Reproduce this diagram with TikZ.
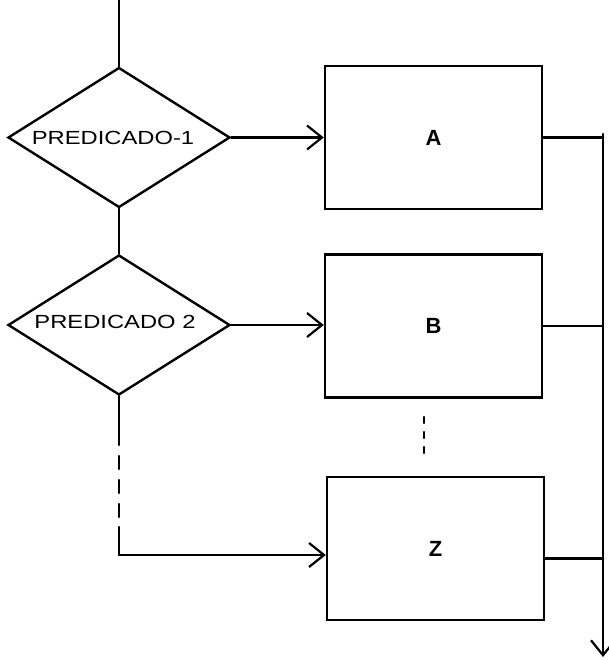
\documentclass[tikz,border=0pt]{standalone}
\usepackage{fontspec}
\setmainfont{Liberation Sans}
\usetikzlibrary{shapes.geometric,arrows.meta,calc}
\tikzset{
  line/.style={line width=2.4pt, line cap=round, line join=round},
  arr/.style={line, -{Straight Barb[length=15pt,width=24pt,line width=2.2pt]}},
  decision/.style={diamond, draw, line width=2.4pt, inner sep=0pt, minimum width=222pt, minimum height=140pt},
  procbox/.style={rectangle, draw, line width=2.4pt, inner sep=0pt, minimum width=217pt, minimum height=143pt, font=\fontsize{22}{24}\selectfont\bfseries},
  dlabel/.style={inner sep=0pt, font=\fontsize{19}{21}\selectfont},
  dots/.style={line, dash pattern=on 6pt off 9pt}
}
\begin{document}
\begin{tikzpicture}[x=1pt,y=-1pt]
\useasboundingbox (0,0) rectangle (608,660);
% decisions
\node[decision] (d1) at (119,137.5) {};
\node[decision] (d2) at (119,325) {};
\node[dlabel] (t1) at (113,138) {\scalebox{1.25}[1]{PREDICADO-1}};
\node[dlabel] (t2) at (115,322) {\scalebox{1.25}[1]{PREDICADO 2}};
% process boxes
\node[procbox] (A) at (433.5,137.5) {A};
\node[procbox] (B) at (433.5,326) {B};
\node[procbox] (Z) at (435.5,548.5) {Z};
% coordinates
\coordinate (top) at (119,0);
\coordinate (mtop) at (603,134);
\coordinate (mbot) at (603,657);
\coordinate (s1) at (119,432);
\coordinate (s2) at (119,527);
\coordinate (zc) at (119,555);
\coordinate (v1) at (424,417);
\coordinate (v2) at (424,462);
% flow
\draw[line] (top) -- (d1.north);
\draw[line] (d1.south) -- (d2.north);
\draw[arr] (d1.east) -- (d1.east -| A.west);
\draw[arr] (d2.east) -- (d2.east -| B.west);
\draw[line] (d2.south) -- (s1);
\draw[line, dash pattern=on 13pt off 11pt] (s1) -- (s2);
\draw[line] (s2) -- (zc);
\draw[arr] (zc) -- (zc -| Z.west);
\draw[dots] (v1) -- (v2);
% outputs
\draw[line] (A.east) -- (A.east -| mtop);
\draw[line] (B.east) -- (B.east -| mtop);
\draw[line] ([yshift=-10pt]Z.east) -- ([yshift=-10pt]Z.east -| mtop);
\draw[arr] (mtop) -- (mbot);
\end{tikzpicture}
\end{document}
